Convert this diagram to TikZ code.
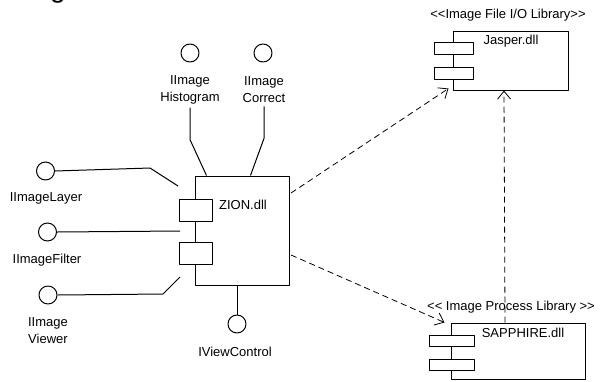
\documentclass[tikz,border=0pt]{standalone}
\usepackage{fontspec}
\setmainfont{Liberation Sans}
\usetikzlibrary{arrows.meta}
\begin{document}
\begin{tikzpicture}[x=1pt,y=-1pt,font=\fontsize{13}{17}\selectfont,line join=round,line width=1pt,
	port/.style={draw,fill=white,inner sep=0pt},
	iface/.style={draw,circle,inner sep=0pt,minimum size=18pt},
	dep/.style={line width=.8pt,dash pattern=on 6pt off 4pt,-{Straight Barb[length=8pt,width=13pt]}}]
	\useasboundingbox (0,0) rectangle (604,381);
	\node[anchor=base,font=\fontsize{28}{28}\selectfont] (title) at (58,-3) {g};
	% components
	\node[draw,minimum width=94pt,minimum height=109pt] (zion) at (242,230.5) {};
	\node[draw,minimum width=115pt,minimum height=59pt] (jasper) at (510.5,60.5) {};
	\node[draw,minimum width=134pt,minimum height=56pt] (sapph) at (518,351) {};
	\foreach \n/\x/\y/\w/\h in {z1/195.5/210/33/22,z2/195.5/253/33/22,j1/453.5/48/39/12,j2/453.5/73/39/12,s1/451.5/340.5/45/11,s2/451.5/364.5/45/11}
	\node[port,minimum width=\w pt,minimum height=\h pt] (\n) at (\x,\y) {};
	\node (ziontxt) at (243,205) {ZION.dll};
	\node (jaspertxt) at (511,41) {Jasper.dll};
	\node (sapphtxt) at (523,333) {SAPPHIRE.dll};
	\node (jasperst) at (508,15) {<{}<Image File I/O Library>{}>};
	\node (sapphst) at (511,307) {<{}< Image Process Library >{}>};
	% interfaces
	\foreach \n/\x/\y in {hist/190/53,corr/263/53,layer/45.5/171,filter/47.5/232,viewer/48/295,ctrl/237/324}
	\node[iface] (\n) at (\x,\y) {};
	\node[align=center] (histlbl) at (190,89.5) {IImage\\Histogram};
	\node[align=center] (corrlbl) at (264,89.5) {IImage\\Correct};
	\node (layerlbl) at (46,198) {IImageLayer};
	\node (filterlbl) at (47,260) {IImageFilter};
	\node[align=center] (viewerlbl) at (48,331) {IImage\\Viewer};
	\node (ctrllbl) at (235,352) {IViewControl};
	\draw (histlbl.south) -- ++(0,32) -- ([xshift=12pt]zion.north west);
	\draw (corrlbl.south) -- ++(0,32) -- ([xshift=56pt]zion.north west);
	\draw (layer.east) -- (150,168) -- (178,186);
	\draw (filter.east) -- (180,231);
	\draw (viewer.east) -- (163,294) -- (180,277);
	\draw (zion.south -| ctrl) -- (ctrl.north);
	% dependencies
	\draw[dep] (291,193) -- ([shift={(-4pt,2pt)}]jasper.south west);
	\draw[dep] (291,255) -- ([shift={(-6pt,0pt)}]sapph.north west);
	\draw[dep] (sapph.north -| 505,0) -- (jasper.south -| 504,0);
\end{tikzpicture}
\end{document}
